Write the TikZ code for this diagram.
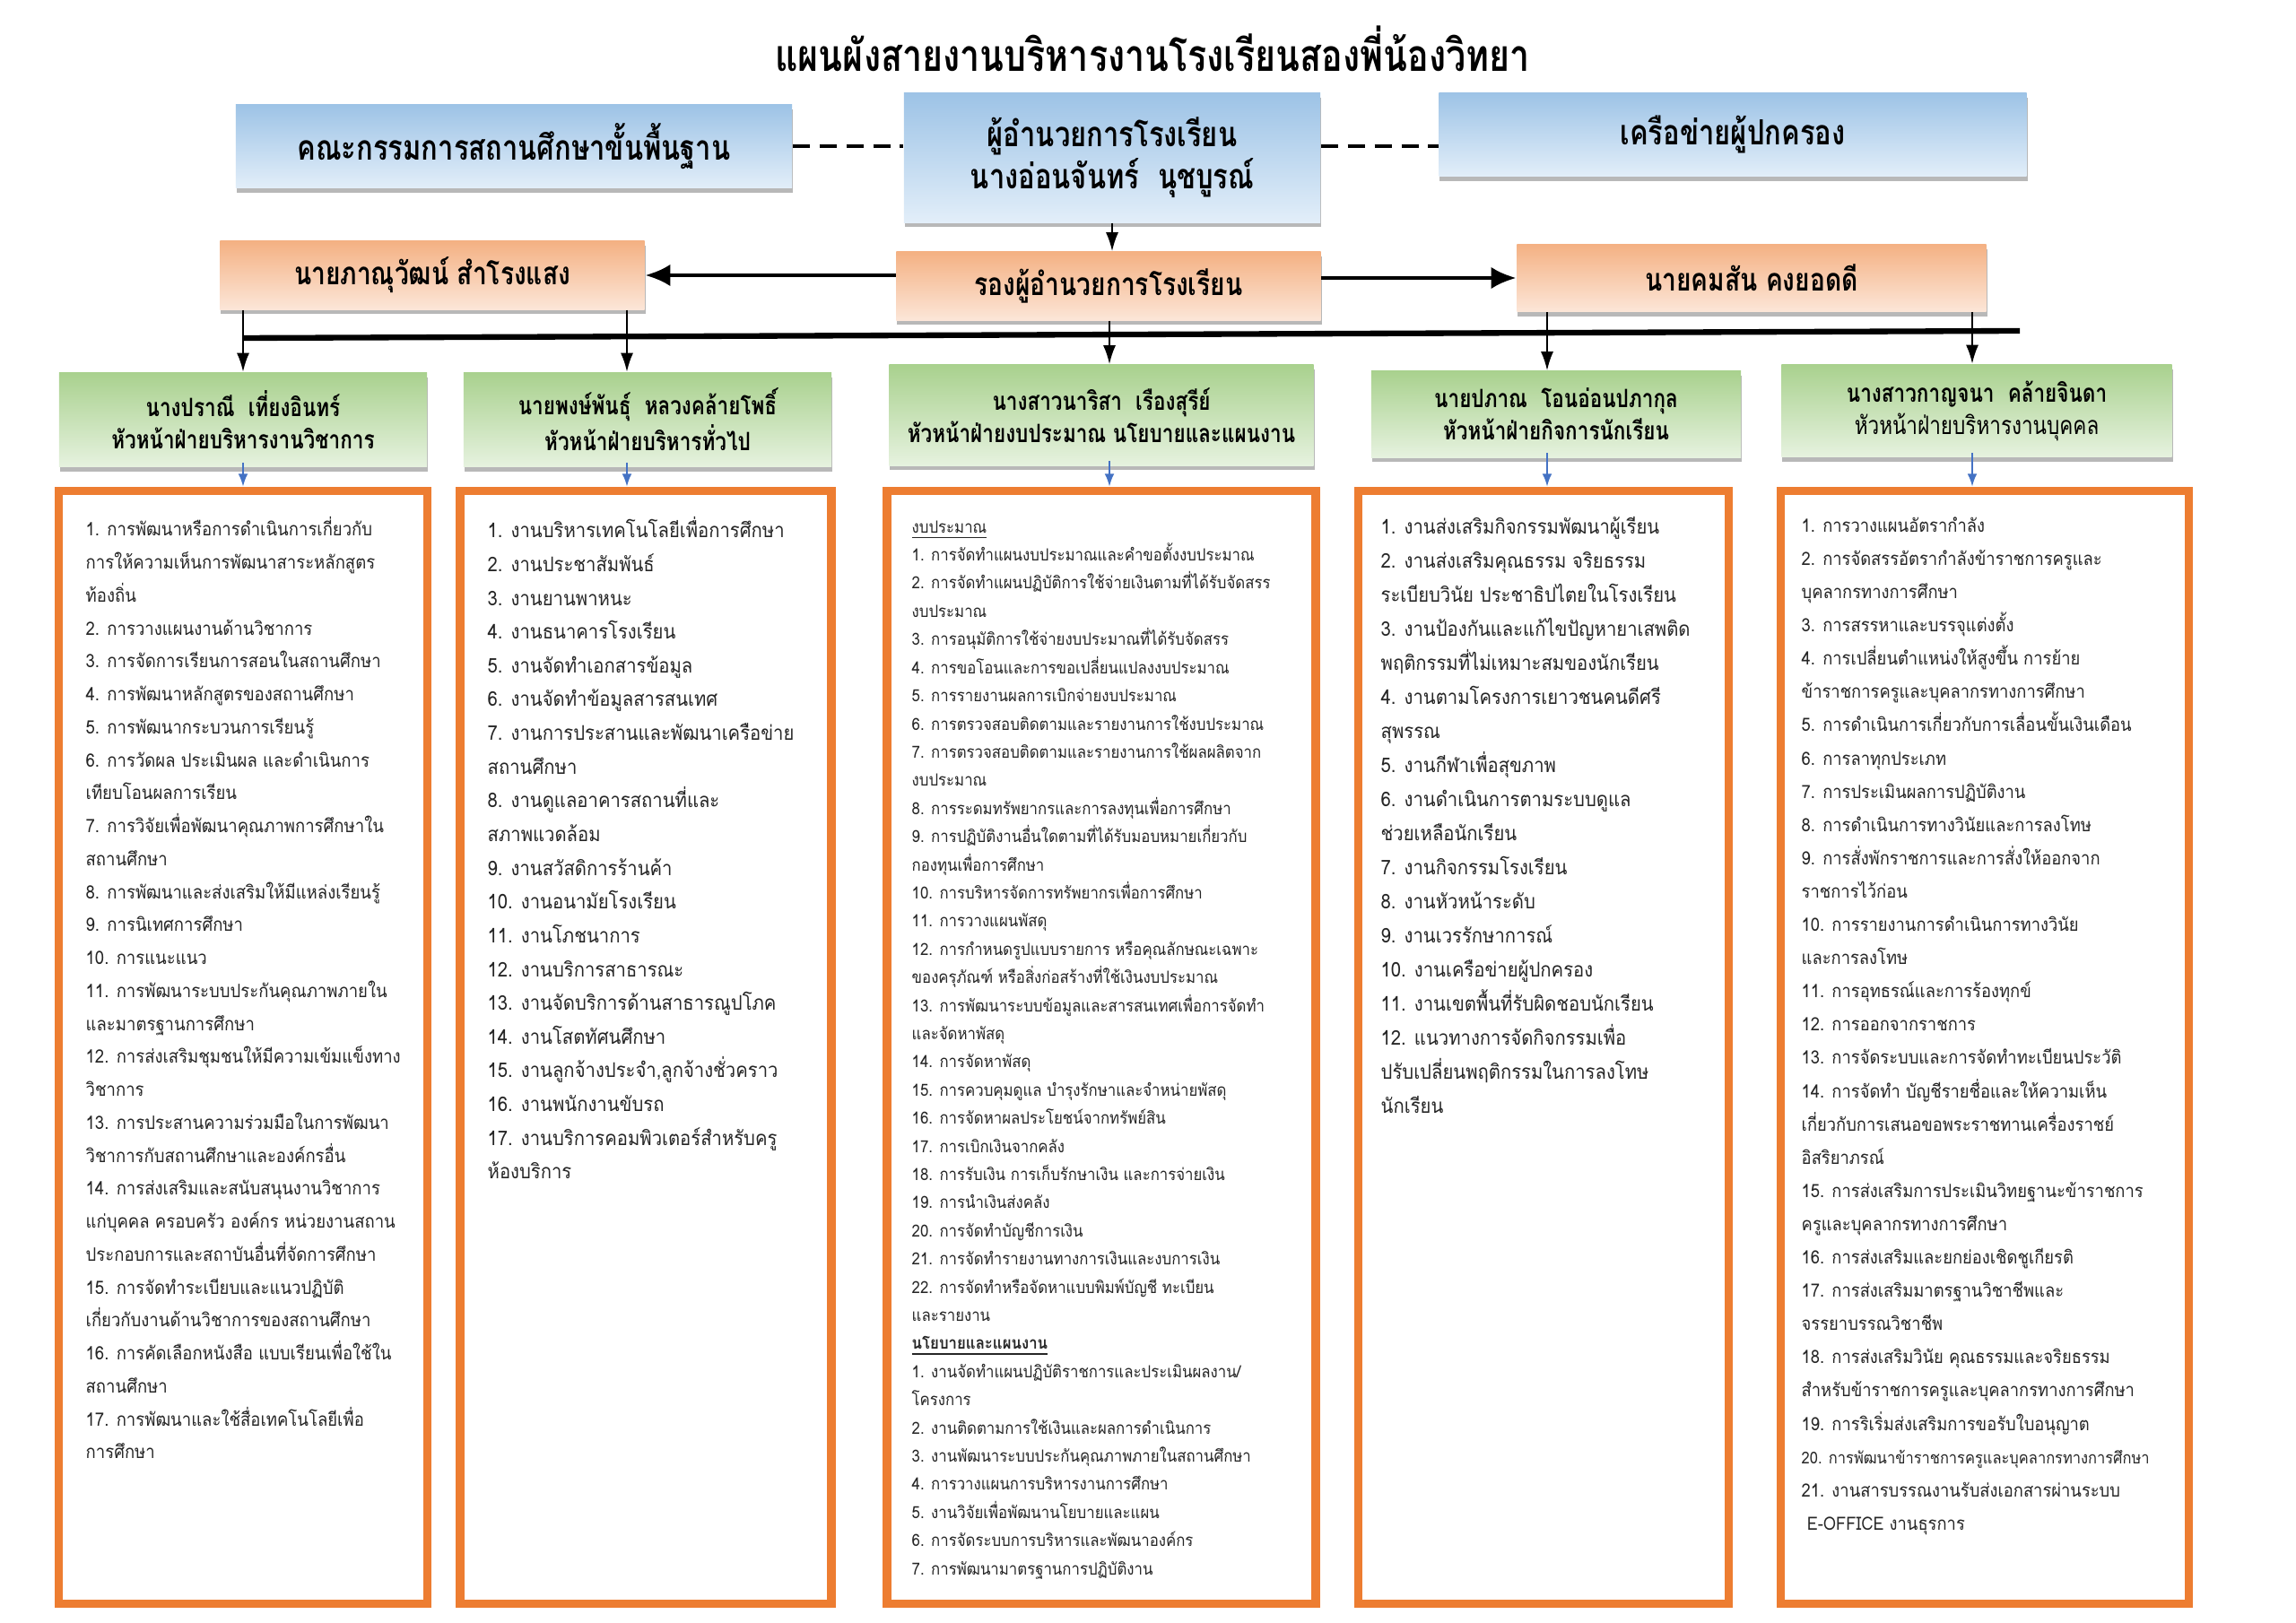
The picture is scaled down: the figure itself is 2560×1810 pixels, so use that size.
\documentclass[tikz,border=0pt]{standalone}
\usepackage{fontspec}
\setmainfont[Script=Thai]{Loma}
\newfontfamily\headfont[Script=Thai,FakeStretch=0.8]{Loma}
\newfontfamily\listfont[Script=Thai,FakeStretch=0.9]{Loma}
\usetikzlibrary{arrows.meta,shadows}

\definecolor{blueA}{HTML}{9DC3E6}
\definecolor{blueB}{HTML}{E2EEF9}
\definecolor{orangeA}{HTML}{F4B183}
\definecolor{orangeB}{HTML}{FCE6D8}
\definecolor{greenA}{HTML}{A9D18E}
\definecolor{greenB}{HTML}{E6F2DF}
\definecolor{frame}{HTML}{ED7D31}
\definecolor{linkblue}{HTML}{4472C4}
\definecolor{ink}{HTML}{262626}

\begin{document}
\begin{tikzpicture}[x = 0.01cm, y = -0.01cm,
  box/.style = {inner sep = 0pt, align = center, text = black,
    drop shadow = {shadow xshift = 0.3pt, shadow yshift = -1.5pt, opacity = 0.5, fill = black!55}},
  bluebox/.style = {box, top color = blueA, bottom color = blueB, font = \headfont\bfseries\fontsize{11}{13.4}\selectfont},
  orangebox/.style = {box, top color = orangeA, bottom color = orangeB, font = \headfont\bfseries\fontsize{10}{12}\selectfont},
  greenbox/.style = {box, top color = greenA, bottom color = greenB, font = \headfont\bfseries\fontsize{8}{10.2}\selectfont},
  listbox/.style = {draw = frame, line width = 2.6pt, inner sep = 0pt, minimum height = 12.41cm},
  listtext/.style = {anchor = north west, inner sep = 0pt, align = left, text = ink},
  arr/.style = {-{Latex[length = 6pt, width = 4pt]}, line width = 0.6pt},
  thickarr/.style = {-{Latex[length = 8pt, width = 7pt]}, line width = 1.3pt},
  bluearr/.style = {-{Latex[length = 4pt, width = 3pt]}, linkblue, line width = 0.5pt}]
\fill[white] (0, 0) rectangle (2560, 1810);
\useasboundingbox (0, 0) rectangle (2560, 1810);
% Title
\node[font = \headfont\bfseries\fontsize{14}{16}\selectfont] (title) at (1285, 54) {แผนผังสายงานบริหารงานโรงเรียนสองพี่น้องวิทยา};
% Top row
\node[bluebox, minimum width = 6.2cm, minimum height = 0.93cm] (board) at (573, 163) {คณะกรรมการสถานศึกษาขั้นพื้นฐาน};
\node[bluebox, minimum width = 4.64cm, minimum height = 1.44cm] (head) at (1240, 176) {ผู้อำนวยการโรงเรียน\\นางอ่อนจันทร์\ \ นุชบูรณ์};
\node[bluebox, minimum width = 6.55cm, minimum height = 0.93cm] (parents) at (1932, 150) {เครือข่ายผู้ปกครอง};
% Deputy row
\node[orangebox, minimum width = 4.73cm, minimum height = 0.76cm] (left) at (482, 307) {นายภาณุวัฒน์ สำโรงแสง};
\node[orangebox, minimum width = 4.73cm, minimum height = 0.76cm] (deputy) at (1236, 319) {รองผู้อำนวยการโรงเรียน};
\node[orangebox, minimum width = 5.23cm, minimum height = 0.75cm] (right) at (1953, 310) {นายคมสัน คงยอดดี};
% Department heads
\node[greenbox, minimum width = 4.1cm, minimum height = 1.05cm] (g1) at (271, 468) {นางปราณี\ \ เที่ยงอินทร์\\หัวหน้าฝ่ายบริหารงานวิชาการ};
\node[greenbox, minimum width = 4.1cm, minimum height = 1.05cm] (g2) at (722, 468) {นายพงษ์พันธุ์\ \ หลวงคล้ายโพธิ์\\หัวหน้าฝ่ายบริหารทั่วไป};
\node[greenbox, minimum width = 4.73cm, minimum height = 1.12cm] (g3) at (1228, 463) {นางสาวนาริสา\ \ เรืองสุรีย์\\หัวหน้าฝ่ายงบประมาณ นโยบายและแผนงาน};
\node[greenbox, minimum width = 4.12cm, minimum height = 0.96cm] (g4) at (1735, 462) {นายปภาณ\ \ โอนอ่อนปภากุล\\หัวหน้าฝ่ายกิจการนักเรียน};
\node[greenbox, minimum width = 4.35cm, minimum height = 1.03cm] (g5) at (2204, 458) {นางสาวกาญจนา\ \ คล้ายจินดา\\{\mdseries หัวหน้าฝ่ายบริหารงานบุคคล}};
% Task frames
\node[listbox, minimum width = 4.11cm] (L1) at (271, 1168) {};
\node[listbox, minimum width = 4.14cm] (L2) at (720, 1168) {};
\node[listbox, minimum width = 4.78cm] (L3) at (1228, 1168) {};
\node[listbox, minimum width = 4.13cm] (L4) at (1721, 1168) {};
\node[listbox, minimum width = 4.55cm] (L5) at (2213, 1168) {};
\foreach \n in {L1, L2, L3, L4, L5}
  \draw[frame, line width = 0.8pt] ([shift = {(8, 8)}]\n.north west) rectangle ([shift = {(-8, -8)}]\n.south east);
% Dashed links
\draw[line width = 1.1pt, dash pattern = on 5.5pt off 3pt] (board.east) -- (board.east -| head.west);
\draw[line width = 1.1pt, dash pattern = on 5.5pt off 3pt] (board.east -| head.east) -- (board.east -| parents.west);
% Arrows
\draw[arr] (head.south) -- (head.south |- deputy.north);
\draw[thickarr] (deputy.west |- left.east) -- (left.east);
\draw[thickarr] (deputy.east |- right.west) -- (right.west);
\coordinate (barL) at (271, 377);
\coordinate (barR) at (2252, 369);
\draw[line width = 1.8pt] (barL) -- (barR);
\coordinate (k1) at (271, 0);
\coordinate (k2) at (699, 0);
\coordinate (k3) at (1237, 0);
\coordinate (k4) at (1725, 0);
\coordinate (k5) at (2199, 0);
\draw[arr] (left.south -| k1) -- (g1.north -| k1);
\draw[arr] (left.south -| k2) -- (g2.north -| k2);
\draw[arr] (deputy.south -| k3) -- (g3.north -| k3);
\draw[arr] (right.south -| k4) -- (g4.north -| k4);
\draw[arr] (right.south -| k5) -- (g5.north -| k5);
\foreach \i in {1, ..., 5}
  \draw[bluearr] ([yshift = 1.5pt]g\i.south -| k\i) -- (L\i.north -| k\i);
% Task lists
\node[listtext, font = \listfont\fontsize{5.85}{10.45}\selectfont] (t1) at (95, 576) {%
1. การพัฒนาหรือการดำเนินการเกี่ยวกับ\\
การให้ความเห็นการพัฒนาสาระหลักสูตร\\
ท้องถิ่น\\
2. การวางแผนงานด้านวิชาการ\\
3. การจัดการเรียนการสอนในสถานศึกษา\\
4. การพัฒนาหลักสูตรของสถานศึกษา\\
5. การพัฒนากระบวนการเรียนรู้\\
6. การวัดผล ประเมินผล และดำเนินการ\\
เทียบโอนผลการเรียน\\
7. การวิจัยเพื่อพัฒนาคุณภาพการศึกษาใน\\
สถานศึกษา\\
8. การพัฒนาและส่งเสริมให้มีแหล่งเรียนรู้\\
9. การนิเทศการศึกษา\\
10. การแนะแนว\\
11. การพัฒนาระบบประกันคุณภาพภายใน\\
และมาตรฐานการศึกษา\\
12. การส่งเสริมชุมชนให้มีความเข้มแข็งทาง\\
วิชาการ\\
13. การประสานความร่วมมือในการพัฒนา\\
วิชาการกับสถานศึกษาและองค์กรอื่น\\
14. การส่งเสริมและสนับสนุนงานวิชาการ\\
แก่บุคคล ครอบครัว องค์กร หน่วยงานสถาน\\
ประกอบการและสถาบันอื่นที่จัดการศึกษา\\
15. การจัดทำระเบียบและแนวปฏิบัติ\\
เกี่ยวกับงานด้านวิชาการของสถานศึกษา\\
16. การคัดเลือกหนังสือ แบบเรียนเพื่อใช้ใน\\
สถานศึกษา\\
17. การพัฒนาและใช้สื่อเทคโนโลยีเพื่อ\\
การศึกษา};
\node[listtext, font = \listfont\fontsize{6.4}{10.7}\selectfont] (t2) at (543, 576) {%
1. งานบริหารเทคโนโลยีเพื่อการศึกษา\\
2. งานประชาสัมพันธ์\\
3. งานยานพาหนะ\\
4. งานธนาคารโรงเรียน\\
5. งานจัดทำเอกสารข้อมูล\\
6. งานจัดทำข้อมูลสารสนเทศ\\
7. งานการประสานและพัฒนาเครือข่าย\\
สถานศึกษา\\
8. งานดูแลอาคารสถานที่และ\\
สภาพแวดล้อม\\
9. งานสวัสดิการร้านค้า\\
10. งานอนามัยโรงเรียน\\
11. งานโภชนาการ\\
12. งานบริการสาธารณะ\\
13. งานจัดบริการด้านสาธารณูปโภค\\
14. งานโสตทัศนศึกษา\\
15. งานลูกจ้างประจำ,ลูกจ้างชั่วคราว\\
16. งานพนักงานขับรถ\\
17. งานบริการคอมพิวเตอร์สำหรับครู\\
ห้องบริการ};
\node[listtext, font = \listfont\fontsize{5.3}{8.93}\selectfont] (t3) at (1016, 580) {%
\underline{งบประมาณ}\\
1. การจัดทำแผนงบประมาณและคำขอตั้งงบประมาณ\\
2. การจัดทำแผนปฏิบัติการใช้จ่ายเงินตามที่ได้รับจัดสรร\\
งบประมาณ\\
3. การอนุมัติการใช้จ่ายงบประมาณที่ได้รับจัดสรร\\
4. การขอโอนและการขอเปลี่ยนแปลงงบประมาณ\\
5. การรายงานผลการเบิกจ่ายงบประมาณ\\
6. การตรวจสอบติดตามและรายงานการใช้งบประมาณ\\
7. การตรวจสอบติดตามและรายงานการใช้ผลผลิตจาก\\
งบประมาณ\\
8. การระดมทรัพยากรและการลงทุนเพื่อการศึกษา\\
9. การปฏิบัติงานอื่นใดตามที่ได้รับมอบหมายเกี่ยวกับ\\
กองทุนเพื่อการศึกษา\\
10. การบริหารจัดการทรัพยากรเพื่อการศึกษา\\
11. การวางแผนพัสดุ\\
12. การกำหนดรูปแบบรายการ หรือคุณลักษณะเฉพาะ\\
ของครุภัณฑ์ หรือสิ่งก่อสร้างที่ใช้เงินงบประมาณ\\
13. การพัฒนาระบบข้อมูลและสารสนเทศเพื่อการจัดทำ\\
และจัดหาพัสดุ\\
14. การจัดหาพัสดุ\\
15. การควบคุมดูแล บำรุงรักษาและจำหน่ายพัสดุ\\
16. การจัดหาผลประโยชน์จากทรัพย์สิน\\
17. การเบิกเงินจากคลัง\\
18. การรับเงิน การเก็บรักษาเงิน และการจ่ายเงิน\\
19. การนำเงินส่งคลัง\\
20. การจัดทำบัญชีการเงิน\\
21. การจัดทำรายงานทางการเงินและงบการเงิน\\
22. การจัดทำหรือจัดหาแบบพิมพ์บัญชี ทะเบียน\\
และรายงาน\\
\underline{\textbf{นโยบายและแผนงาน}}\\
1. งานจัดทำแผนปฏิบัติราชการและประเมินผลงาน/\\
โครงการ\\
2. งานติดตามการใช้เงินและผลการดำเนินการ\\
3. งานพัฒนาระบบประกันคุณภาพภายในสถานศึกษา\\
4. การวางแผนการบริหารงานการศึกษา\\
5. งานวิจัยเพื่อพัฒนานโยบายและแผน\\
6. การจัดระบบการบริหารและพัฒนาองค์กร\\
7. การพัฒนามาตรฐานการปฏิบัติงาน};
\node[listtext, font = \listfont\fontsize{6.4}{10.8}\selectfont] (t4) at (1539, 576) {%
1. งานส่งเสริมกิจกรรมพัฒนาผู้เรียน\\
2. งานส่งเสริมคุณธรรม จริยธรรม\\
ระเบียบวินัย ประชาธิปไตยในโรงเรียน\\
3. งานป้องกันและแก้ไขปัญหายาเสพติด\\
พฤติกรรมที่ไม่เหมาะสมของนักเรียน\\
4. งานตามโครงการเยาวชนคนดีศรี\\
สุพรรณ\\
5. งานกีฬาเพื่อสุขภาพ\\
6. งานดำเนินการตามระบบดูแล\\
ช่วยเหลือนักเรียน\\
7. งานกิจกรรมโรงเรียน\\
8. งานหัวหน้าระดับ\\
9. งานเวรรักษาการณ์\\
10. งานเครือข่ายผู้ปกครอง\\
11. งานเขตพื้นที่รับผิดชอบนักเรียน\\
12. แนวทางการจัดกิจกรรมเพื่อ\\
ปรับเปลี่ยนพฤติกรรมในการลงโทษ\\
นักเรียน};
\node[listtext, font = \listfont\fontsize{5.8}{10.55}\selectfont] (t5) at (2008, 576) {%
1. การวางแผนอัตรากำลัง\\
2. การจัดสรรอัตรากำลังข้าราชการครูและ\\
บุคลากรทางการศึกษา\\
3. การสรรหาและบรรจุแต่งตั้ง\\
4. การเปลี่ยนตำแหน่งให้สูงขึ้น การย้าย\\
ข้าราชการครูและบุคลากรทางการศึกษา\\
5. การดำเนินการเกี่ยวกับการเลื่อนขั้นเงินเดือน\\
6. การลาทุกประเภท\\
7. การประเมินผลการปฏิบัติงาน\\
8. การดำเนินการทางวินัยและการลงโทษ\\
9. การสั่งพักราชการและการสั่งให้ออกจาก\\
ราชการไว้ก่อน\\
10. การรายงานการดำเนินการทางวินัย\\
และการลงโทษ\\
11. การอุทธรณ์และการร้องทุกข์\\
12. การออกจากราชการ\\
13. การจัดระบบและการจัดทำทะเบียนประวัติ\\
14. การจัดทำ บัญชีรายชื่อและให้ความเห็น\\
เกี่ยวกับการเสนอขอพระราชทานเครื่องราชย์\\
อิสริยาภรณ์\\
15. การส่งเสริมการประเมินวิทยฐานะข้าราชการ\\
ครูและบุคลากรทางการศึกษา\\
16. การส่งเสริมและยกย่องเชิดชูเกียรติ\\
17. การส่งเสริมมาตรฐานวิชาชีพและ\\
จรรยาบรรณวิชาชีพ\\
18. การส่งเสริมวินัย คุณธรรมและจริยธรรม\\
สำหรับข้าราชการครูและบุคลากรทางการศึกษา\\
19. การริเริ่มส่งเสริมการขอรับใบอนุญาต\\
{\fontsize{5.2}{10.55}\selectfont 20. การพัฒนาข้าราชการครูและบุคลากรทางการศึกษา}\\
21. งานสารบรรณงานรับส่งเอกสารผ่านระบบ\\
\ E-OFFICE งานธุรการ};
\end{tikzpicture}
\end{document}
